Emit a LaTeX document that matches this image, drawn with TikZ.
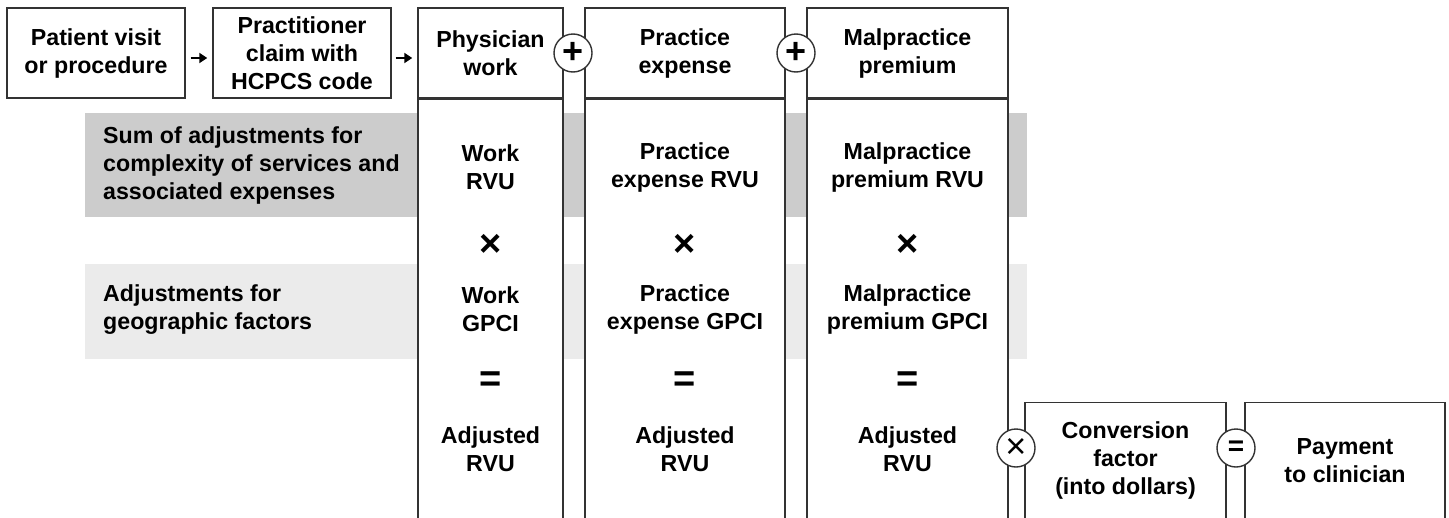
\documentclass[tikz,border=0pt]{standalone}
\usepackage{fontspec}
\setmainfont{Liberation Sans}
\usetikzlibrary{arrows.meta,positioning}

\definecolor{linegray}{HTML}{333333}
\definecolor{darkband}{HTML}{CCCCCC}
\definecolor{lightband}{HTML}{EBEBEB}

\tikzset{
  lbl/.style={font=\fontsize{23.2pt}{28pt}\selectfont\bfseries, align=center, inner sep=0pt},
  plainbox/.style={lbl, draw=linegray, line width=1.4pt, fill=white, minimum height=90pt},
  colbody/.style={draw=linegray, line width=1.4pt, fill=white, inner sep=0pt},
  band/.style={inner sep=0pt, minimum width=942pt, anchor=north west},
  opsign/.style={inner sep=0pt, font=\fontsize{38pt}{40pt}\selectfont\bfseries},
  opcircle/.style={circle, draw=linegray, line width=1.4pt, fill=white, minimum size=38pt,
    inner sep=0pt, font=\fontsize{36pt}{38pt}\selectfont\bfseries},
  flow/.style={-{Triangle[length=8pt,width=10pt]}, line width=2.6pt, black},
}

\begin{document}
\begin{tikzpicture}[x=1pt, y=-1pt]
    \useasboundingbox (0,0) rectangle (1449,517);
    % shaded rows behind the columns
    \node[band, fill=darkband, minimum height=104pt] (rvuband) at (85,113) {};
    \node[band, fill=lightband, minimum height=95pt] (gpciband) at (85,264) {};
    \node[lbl, align=left, anchor=west] (rvulabel) at (103,165) {Sum of adjustments for\\complexity of services and\\associated expenses};
    \node[lbl, align=left, anchor=west] (gpcilabel) at (103,310) {Adjustments for\\geographic factors};

    % claim boxes
    \node[plainbox, minimum width=178pt] (visit) at (96,53) {Patient visit\\or procedure};
    \node[plainbox, minimum width=178pt] (claim) at (302,53) {Practitioner\\claim with\\HCPCS code};
    \draw[flow, shorten <=5pt, shorten >=5pt] ([yshift=-5pt]visit.east) -- ([yshift=-5pt]claim.west);

    % physician work column
    \node[plainbox, minimum width=145pt] (workhead) at (490.5,53) {Physician\\work};
    \node[colbody, minimum width=145pt, minimum height=430pt, anchor=north] (workbody) at (workhead.south) {};
    \draw[flow, shorten <=4pt, shorten >=5pt] ([yshift=-5pt]claim.east) -- ([yshift=-5pt]workhead.west);
    \node[lbl] (workrvu) at (490.5,167) {Work\\RVU};
    \node[opsign] (worktimes) at (490.5,245) {×};
    \node[lbl] (workgpci) at (490.5,309) {Work\\GPCI};
    \node[opsign] (workeq) at (490.5,382) {=};
    \node[lbl] (workadj) at (490.5,449) {Adjusted\\RVU};

    % practice expense column
    \node[plainbox, minimum width=200pt] (pehead) at (685,53) {Practice\\expense};
    \node[colbody, minimum width=200pt, minimum height=430pt, anchor=north] (pebody) at (pehead.south) {};
    \node[lbl] (pervu) at (685,167) {Practice\\expense RVU};
    \node[opsign] (petimes) at (685,245) {×};
    \node[lbl] (pegpci) at (685,309) {Practice\\expense GPCI};
    \node[opsign] (peeq) at (685,382) {=};
    \node[lbl] (peadj) at (685,449) {Adjusted\\RVU};

    % malpractice column
    \node[plainbox, minimum width=201pt] (mphead) at (907.5,53) {Malpractice\\premium};
    \node[colbody, minimum width=201pt, minimum height=430pt, anchor=north] (mpbody) at (mphead.south) {};
    \node[lbl] (mprvu) at (907.5,167) {Malpractice\\premium RVU};
    \node[opsign] (mptimes) at (907.5,245) {×};
    \node[lbl] (mpgpci) at (907.5,309) {Malpractice\\premium GPCI};
    \node[opsign] (mpeq) at (907.5,382) {=};
    \node[lbl] (mpadj) at (907.5,449) {Adjusted\\RVU};

    % conversion to payment
    \node[plainbox, minimum width=201pt, minimum height=116pt, anchor=north] (convert) at (1125.5,402) {Conversion\\factor\\(into dollars)};
    \node[plainbox, minimum width=200pt, minimum height=116pt, anchor=north] (payment) at (1345,402) {Payment\\to clinician};

    % operators between the boxes
    \node[opcircle] (plusA) at (573,53) {+};
    \node[opcircle] (plusB) at (796,53) {+};
    \node[opcircle, font=\fontsize{36pt}{38pt}\selectfont] (times) at (1016,448) {×};
    \node[opcircle, font=\fontsize{28pt}{30pt}\selectfont\bfseries] (equals) at (1236,448) {=};
\end{tikzpicture}
\end{document}
